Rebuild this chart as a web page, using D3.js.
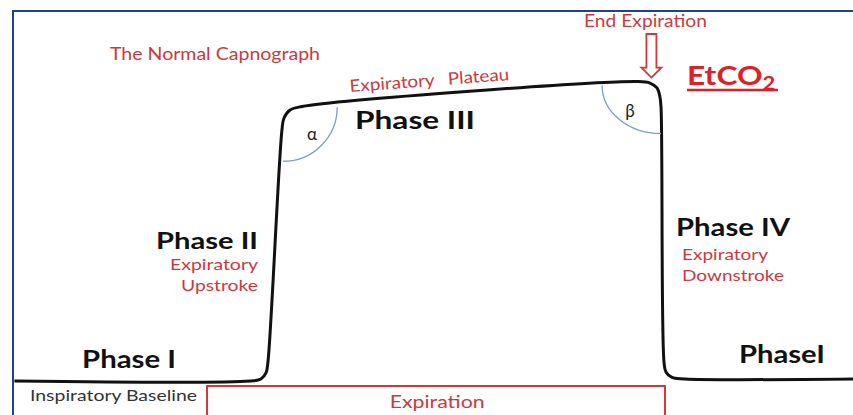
<!DOCTYPE html>
<html lang="en">
<head>
<meta charset="utf-8">
<script src="https://d3js.org/d3.v7.min.js"></script>
<style>
  body { margin: 0; background: #fff; }
  svg { display: block; font-family: Lato, "Open Sans", sans-serif; }
</style>
</head>
<body>
<script>
// waveform samples: time (s) and CO2 (mmHg)
var timeSec = [0.01, 1.693, 1.771, 1.807, 1.821, 1.921, 1.936, 1.979, 2.064,
               4.464, 4.55, 4.6, 4.621, 4.629, 4.65, 4.664, 4.707, 4.8, 6.0];
var co2 = [0, 0, 0.27, 1.07, 2.53, 33.47, 35.07, 36.13, 36.6,
           39.93, 39.73, 39.07, 37.87, 36.4, 2.53, 1.2, 0.47, 0.27, 0.27];

var phaseLabels = ["Phase I", "Phase II", "Phase III", "Phase IV", "PhaseI"];
var subLabels = ["Expiratory", "Upstroke", "Expiratory", "Downstroke"];

var width = 853, height = 415;
var red = "#c93a40", brightRed = "#d8232a";

var x = d3.scaleLinear().domain([0, 6]).range([13, 853]);
var y = d3.scaleLinear().domain([0, 40]).range([381, 81]);

var svg = d3.select("body").append("svg")
    .attr("width", width)
    .attr("height", height);

// text helper, stretched to the width seen in the picture
function txt(s, px, py, size, opts) {
  opts = opts || {};
  var t = svg.append("text")
      .attr("x", px).attr("y", py)
      .attr("text-anchor", opts.anchor || "start")
      .attr("font-size", size)
      .attr("font-weight", opts.weight || 400)
      .attr("fill", opts.fill || "#111")
      .text(s);
  if (opts.len) t.attr("textLength", opts.len).attr("lengthAdjust", "spacingAndGlyphs");
  return t;
}

// frame
svg.append("rect")
    .attr("x", 13).attr("y", 11)
    .attr("width", 860).attr("height", 420)
    .attr("fill", "none")
    .attr("stroke", "#23408e")
    .attr("stroke-width", 2);

// expiration box
svg.append("rect")
    .attr("x", x(1.386)).attr("y", 386)
    .attr("width", x(4.657) - x(1.386)).attr("height", 40)
    .attr("fill", "#fff")
    .attr("stroke", "#d0393c")
    .attr("stroke-width", 2);
txt("Expiration", x(3.03), 408, 17, { anchor: "middle", fill: red, len: 95 });

// waveform
var pts = timeSec.map(function(t, i) { return [t, co2[i]]; });
var line = d3.line()
    .x(function(d) { return x(d[0]); })
    .y(function(d) { return y(d[1]); })
    .curve(d3.curveCatmullRom.alpha(0.5));

svg.append("path")
    .datum(pts)
    .attr("d", line)
    .attr("fill", "none")
    .attr("stroke", "#111")
    .attr("stroke-width", 3)
    .attr("stroke-linejoin", "round");

// angle arcs
var ax = x(1.93), ay = y(36.5), ar = 54;
svg.append("path")
    .attr("d", "M" + (ax + ar) + "," + ay + " A" + ar + "," + ar + " 0 0 1 " + ax + "," + (ay + ar))
    .attr("fill", "none").attr("stroke", "#7d9bcb").attr("stroke-width", 1.3);

var bx = x(4.629), by = y(39.4), brx = 59, bry = 48;
svg.append("path")
    .attr("d", "M" + (bx - brx) + "," + by + " A" + brx + "," + bry + " 0 0 0 " + bx + "," + (by + bry))
    .attr("fill", "none").attr("stroke", "#7d9bcb").attr("stroke-width", 1.3);

txt("α", 312, 140, 17, { anchor: "middle", fill: "#222" });
txt("β", 630, 117, 17, { anchor: "middle", fill: "#222" });

// titles and notes
txt("The Normal Capnograph", 110, 60, 18, { fill: red, len: 210 });

var slope = Math.atan2(y(39.93) - y(36.6), x(4.464) - x(2.064)) * 180 / Math.PI;
txt("Expiratory Plateau", 0, 0, 17, { fill: red, len: 160 })
    .attr("word-spacing", 8)
    .attr("transform", "translate(350,92) rotate(" + slope + ")");

txt("End Expiration", 584, 27, 17, { fill: red, len: 123 });

// hollow arrow down to end expiration
var cx = x(4.56), tip = y(39.93) - 4;
var arrow = [[cx - 5, 34], [cx + 5, 34], [cx + 5, tip - 10], [cx + 10, tip - 10],
             [cx, tip], [cx - 10, tip - 10], [cx - 5, tip - 10]];
svg.append("path")
    .attr("d", d3.line()(arrow) + "Z")
    .attr("fill", "#fff").attr("stroke", "#d0393c").attr("stroke-width", 1.8)
    .attr("stroke-linejoin", "miter");

// EtCO2
var et = svg.append("text")
    .attr("transform", "translate(687,85) scale(1.22,1)")
    .attr("font-size", 26).attr("font-weight", 700).attr("fill", brightRed);
et.append("tspan").text("EtCO");
et.append("tspan").attr("font-size", 18).attr("dy", 5).text("2");
svg.append("line").attr("x1", 687).attr("x2", 778).attr("y1", 90).attr("y2", 90)
    .attr("stroke", brightRed).attr("stroke-width", 2.5);

// phase labels
var boldOpts = function(len, anchor) { return { weight: 700, fill: "#111", len: len, anchor: anchor }; };
txt(phaseLabels[0], 82, 368, 24, boldOpts(94));
txt(phaseLabels[1], 258, 249, 23, boldOpts(102, "end"));
txt(phaseLabels[2], 355, 129, 24, boldOpts(120));
txt(phaseLabels[3], 676, 236, 24, boldOpts(114));
txt(phaseLabels[4], 739, 363, 24, boldOpts(86));

txt(subLabels[0], 258, 270, 16, { anchor: "end", fill: red, len: 88 });
txt(subLabels[1], 258, 291, 16, { anchor: "end", fill: red, len: 77 });
txt(subLabels[2], 682, 260, 16, { fill: red, len: 86 });
txt(subLabels[3], 682, 281, 16, { fill: red, len: 102 });

txt("Inspiratory Baseline", 30, 401, 16, { fill: "#333", len: 167 });
</script>
</body>
</html>
